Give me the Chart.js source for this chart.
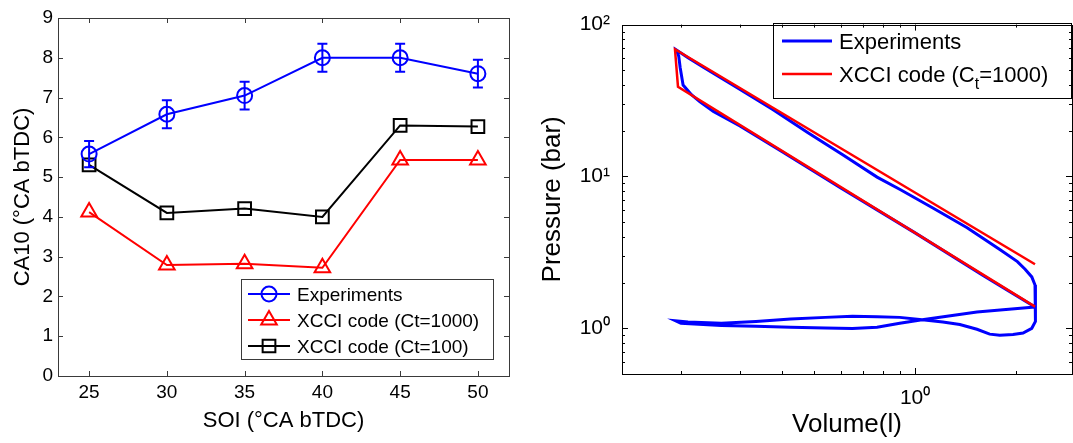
<!DOCTYPE html>
<html>
<head>
<meta charset="utf-8">
<script src="https://cdn.jsdelivr.net/npm/chart.js@4"></script>
<style>
  html, body { margin: 0; padding: 0; background: #fff; }
  #wrap { position: relative; width: 1073px; height: 443px; overflow: hidden; }
  #left { position: absolute; left: 0; top: 0; width: 530px; height: 443px; }
  #right { position: absolute; left: 530px; top: 0; width: 543px; height: 443px; }
</style>
</head>
<body>
<div id="wrap">
  <canvas id="left" width="530" height="443"></canvas>
  <canvas id="right" width="543" height="443"></canvas>
</div>
<script>
// left panel: CA10 vs SOI
const soi = [25, 30, 35, 40, 45, 50];
const ca10Experiments = [5.58, 6.58, 7.05, 8.0, 8.0, 7.6];
const ca10Error = [0.33, 0.35, 0.35, 0.35, 0.35, 0.35];
const ca10Ct1000 = [4.12, 2.79, 2.82, 2.72, 5.43, 5.43];
const ca10Ct100 = [5.31, 4.1, 4.21, 4.0, 6.3, 6.27];
const soiTicks = [25, 30, 35, 40, 45, 50];
const ca10Ticks = [0, 1, 2, 3, 4, 5, 6, 7, 8, 9];

// right panel: log P - log V
const expVolume = [
  2.28, 1.6, 1.0, 0.6, 0.4, 0.3, 0.25, 0.228, 0.215, 0.203, 0.199, 0.197, 0.194,
  0.21, 0.234, 0.297, 0.377, 0.479, 0.608, 0.77, 0.902, 1.13, 1.43, 1.79, 2.02, 2.13, 2.23,
  2.28, 2.29, 2.29, 2.28, 2.23, 2.10, 1.96, 1.79, 1.67, 1.53, 1.36, 1.21, 1.05,
  0.9, 0.77, 0.65, 0.54, 0.425, 0.335, 0.264, 0.21, 0.193,
  0.2, 0.264, 0.335, 0.425, 0.54, 0.65, 0.77, 0.9, 1.05, 1.53, 2.28
];
const expPressure = [
  1.38, 2.22, 4.25, 8.4, 14.6, 21.5, 26.8, 31, 34.5, 40, 52, 62, 68,
  60.5, 52.2, 38, 27.5, 19.4, 13.9, 9.9, 8.2, 6.2, 4.6, 3.3, 2.75, 2.45, 2.18,
  1.93, 1.57, 1.23, 1.11, 1.0, 0.93, 0.91, 0.90, 0.915, 0.985, 1.06, 1.1, 1.14,
  1.18, 1.19, 1.2, 1.18, 1.15, 1.11, 1.08, 1.1, 1.12,
  1.08, 1.045, 1.03, 1.015, 1.005, 0.995, 1.015, 1.08, 1.14, 1.28, 1.38
];
const xcciVolume = [2.28, 0.196, 0.192, 2.28];
const xcciPressure = [1.39, 39, 68.8, 2.64];
const volumeTicks = [1];
const volumeMinor = [0.2, 0.3, 0.4, 0.5, 0.6, 0.7, 0.8, 0.9, 2];
const pressureTicks = [1, 10, 100];
const pressureMinor = [0.6, 0.7, 0.8, 0.9, 2, 3, 4, 5, 6, 7, 8, 9, 20, 30, 40, 50, 60, 70, 80, 90];

const FONT = "'Liberation Sans', Arial, Helvetica, sans-serif";
Chart.defaults.font.family = FONT;
Chart.defaults.color = '#000';

const toXY = (xs, ys) => xs.map((x, i) => ({ x: x, y: ys[i] }));
const sup = { '0': '\u2070', '1': '\u00B9', '2': '\u00B2', '-': '\u207B' };
const powLabel = (v) => '10' + String(Math.round(Math.log10(v))).split('').map(c => sup[c]).join('');

// box with inward ticks, matlab style
const frame = {
  id: 'frame',
  afterDraw(chart, args, o) {
    const { ctx, chartArea: a, scales: { x, y } } = chart;
    ctx.save();
    ctx.strokeStyle = o.color;
    ctx.lineWidth = 1;
    ctx.beginPath();
    const xt = (vals, len) => vals.forEach(v => {
      const p = Math.round(x.getPixelForValue(v)) + 0.5;
      ctx.moveTo(p, a.bottom); ctx.lineTo(p, a.bottom - len);
      ctx.moveTo(p, a.top); ctx.lineTo(p, a.top + len);
    });
    const yt = (vals, len) => vals.forEach(v => {
      const p = Math.round(y.getPixelForValue(v)) + 0.5;
      ctx.moveTo(a.left, p); ctx.lineTo(a.left + len, p);
      ctx.moveTo(a.right, p); ctx.lineTo(a.right - len, p);
    });
    xt(o.xMajor, o.major); xt(o.xMinor || [], o.minor);
    yt(o.yMajor, o.major); yt(o.yMinor || [], o.minor);
    ctx.stroke();
    ctx.strokeRect(Math.round(a.left) + 0.5, Math.round(a.top) + 0.5,
      Math.round(a.right - a.left), Math.round(a.bottom - a.top));
    ctx.restore();
  }
};

const errorBars = {
  id: 'errorBars',
  afterDatasetsDraw(chart) {
    const { ctx, scales: { x, y } } = chart;
    ctx.save();
    ctx.strokeStyle = '#0000ff';
    ctx.lineWidth = 2;
    soi.forEach((s, i) => {
      const px = x.getPixelForValue(s);
      const top = y.getPixelForValue(ca10Experiments[i] + ca10Error[i]);
      const bot = y.getPixelForValue(ca10Experiments[i] - ca10Error[i]);
      ctx.beginPath();
      ctx.moveTo(px, top); ctx.lineTo(px, bot);
      ctx.moveTo(px - 5, top); ctx.lineTo(px + 5, top);
      ctx.moveTo(px - 5, bot); ctx.lineTo(px + 5, bot);
      ctx.stroke();
    });
    ctx.restore();
  }
};

const boxLegend = {
  id: 'boxLegend',
  afterDatasetsDraw(chart, args, o) {
    const ctx = chart.ctx;
    ctx.save();
    ctx.fillStyle = '#fff';
    ctx.fillRect(o.x, o.y, o.w, o.h);
    ctx.strokeStyle = o.border;
    ctx.lineWidth = 1;
    ctx.strokeRect(o.x + 0.5, o.y + 0.5, o.w, o.h);
    o.items.forEach((it, i) => {
      const ds = chart.data.datasets[it.dataset];
      const ry = o.rows[i];
      ctx.strokeStyle = ds.borderColor;
      ctx.lineWidth = ds.borderWidth;
      ctx.beginPath();
      ctx.moveTo(o.lineX[0], ry); ctx.lineTo(o.lineX[1], ry);
      ctx.stroke();
      if (ds.pointRadius > 0) {
        ctx.lineWidth = ds.pointBorderWidth;
        ctx.fillStyle = 'rgba(0,0,0,0)';
        Chart.helpers.drawPoint(ctx, { pointStyle: ds.pointStyle, radius: ds.pointRadius, rotation: 0, borderWidth: ds.pointBorderWidth },
          (o.lineX[0] + o.lineX[1]) / 2, ry);
      }
      // text, with optional subscript parts
      ctx.fillStyle = '#000';
      ctx.textBaseline = 'alphabetic';
      ctx.textAlign = 'left';
      const base = ry + Math.round(o.size * 0.36);
      let tx = o.textX;
      it.parts.forEach(p => {
        const sz = p.sub ? Math.round(o.size * 0.72) : o.size;
        ctx.font = sz + 'px ' + FONT;
        ctx.fillText(p.text, tx, p.sub ? base + Math.round(o.size * 0.3) : base);
        tx += ctx.measureText(p.text).width;
      });
    });
    ctx.restore();
  }
};

new Chart(document.getElementById('left'), {
  type: 'line',
  data: {
    datasets: [
      {
        label: 'Experiments',
        data: toXY(soi, ca10Experiments),
        borderColor: '#0000ff', borderWidth: 2,
        pointStyle: 'circle', pointRadius: 7.5, pointBorderWidth: 2,
        pointBackgroundColor: 'rgba(0,0,0,0)', pointBorderColor: '#0000ff'
      },
      {
        label: 'XCCI code (Ct=1000)',
        data: toXY(soi, ca10Ct1000),
        borderColor: '#ff0000', borderWidth: 2,
        pointStyle: 'triangle', pointRadius: 9, pointBorderWidth: 2,
        pointBackgroundColor: 'rgba(0,0,0,0)', pointBorderColor: '#ff0000'
      },
      {
        label: 'XCCI code (Ct=100)',
        data: toXY(soi, ca10Ct100),
        borderColor: '#000000', borderWidth: 2,
        pointStyle: 'rect', pointRadius: 9, pointBorderWidth: 2,
        pointBackgroundColor: 'rgba(0,0,0,0)', pointBorderColor: '#000000'
      }
    ]
  },
  options: {
    responsive: false,
    animation: false,
    events: [],
    layout: { padding: { top: 18, right: 21, left: 0, bottom: 0 } },
    plugins: {
      legend: { display: false },
      tooltip: { enabled: false },
      frame: { color: '#3a3a3a', xMajor: soiTicks, yMajor: ca10Ticks, major: 5, minor: 3 },
      boxLegend: {
        x: 241, y: 279, w: 252, h: 80, border: '#3a3a3a', size: 19,
        rows: [294, 320, 346], lineX: [248, 290], textX: 297,
        items: [
          { dataset: 0, parts: [{ text: 'Experiments' }] },
          { dataset: 1, parts: [{ text: 'XCCI code (Ct=1000)' }] },
          { dataset: 2, parts: [{ text: 'XCCI code (Ct=100)' }] }
        ]
      }
    },
    scales: {
      x: {
        type: 'linear', min: 23, max: 52,
        afterBuildTicks: (s) => { s.ticks = soiTicks.map(v => ({ value: v })); },
        afterFit: (s) => { s.height = 67; },
        grid: { display: false, drawTicks: false },
        border: { display: false },
        ticks: { padding: 5, font: { size: 19 }, color: '#000', maxRotation: 0, autoSkip: false },
        title: { display: true, text: 'SOI (\u00B0CA bTDC)', font: { size: 22 }, color: '#000', padding: { top: 0, bottom: 9 } }
      },
      y: {
        type: 'linear', min: 0, max: 9,
        afterBuildTicks: (s) => { s.ticks = ca10Ticks.map(v => ({ value: v })); },
        afterFit: (s) => { s.width = 58; },
        grid: { display: false, drawTicks: false },
        border: { display: false },
        ticks: { padding: 5, font: { size: 19 }, color: '#000' },
        title: { display: true, text: 'CA10 (\u00B0CA bTDC)', font: { size: 22 }, color: '#000', padding: { top: 10, bottom: 0 } }
      }
    }
  },
  plugins: [errorBars, boxLegend, frame]
});

new Chart(document.getElementById('right'), {
  type: 'line',
  data: {
    datasets: [
      {
        label: 'Experiments',
        data: toXY(expVolume, expPressure),
        borderColor: '#0000ff', borderWidth: 3, pointRadius: 0, tension: 0, order: 2
      },
      {
        label: 'XCCI code (Ct=1000)',
        data: toXY(xcciVolume, xcciPressure),
        borderColor: '#ff0000', borderWidth: 2.5, pointRadius: 0, tension: 0, order: 1
      }
    ]
  },
  options: {
    responsive: false,
    animation: false,
    events: [],
    layout: { padding: { top: 19, right: 1, left: 0, bottom: 0 } },
    plugins: {
      legend: { display: false },
      tooltip: { enabled: false },
      frame: { color: '#000', xMajor: volumeTicks, xMinor: volumeMinor, yMajor: pressureTicks, yMinor: pressureMinor, major: 6, minor: 3 },
      boxLegend: {
        x: 243, y: 23, w: 298, h: 75, border: '#000', size: 22,
        rows: [41, 74], lineX: [252, 302], textX: 309,
        items: [
          { dataset: 0, parts: [{ text: 'Experiments' }] },
          { dataset: 1, parts: [{ text: 'XCCI code (C' }, { text: 't', sub: true }, { text: '=1000)' }] }
        ]
      }
    },
    scales: {
      x: {
        type: 'logarithmic', min: 0.1334, max: 2.94,
        afterBuildTicks: (s) => { s.ticks = volumeTicks.map(v => ({ value: v })); },
        afterFit: (s) => { s.height = 69; },
        grid: { display: false, drawTicks: false },
        border: { display: false },
        ticks: { padding: 12, font: { size: 21 }, color: '#000', maxRotation: 0, autoSkip: false, callback: (v) => powLabel(v) },
        title: { display: true, text: 'Volume(l)', font: { size: 26 }, color: '#000', padding: { top: 0, bottom: 3 } }
      },
      y: {
        type: 'logarithmic', min: 0.5, max: 100,
        afterBuildTicks: (s) => { s.ticks = pressureTicks.map(v => ({ value: v })); },
        afterFit: (s) => { s.width = 92; },
        grid: { display: false, drawTicks: false },
        border: { display: false },
        ticks: { padding: 12, font: { size: 21 }, color: '#000', callback: (v) => powLabel(v) },
        title: { display: true, text: 'Pressure (bar)', font: { size: 26 }, color: '#000', padding: { top: 7, bottom: 0 } }
      }
    }
  },
  plugins: [boxLegend, frame]
});
</script>
</body>
</html>
